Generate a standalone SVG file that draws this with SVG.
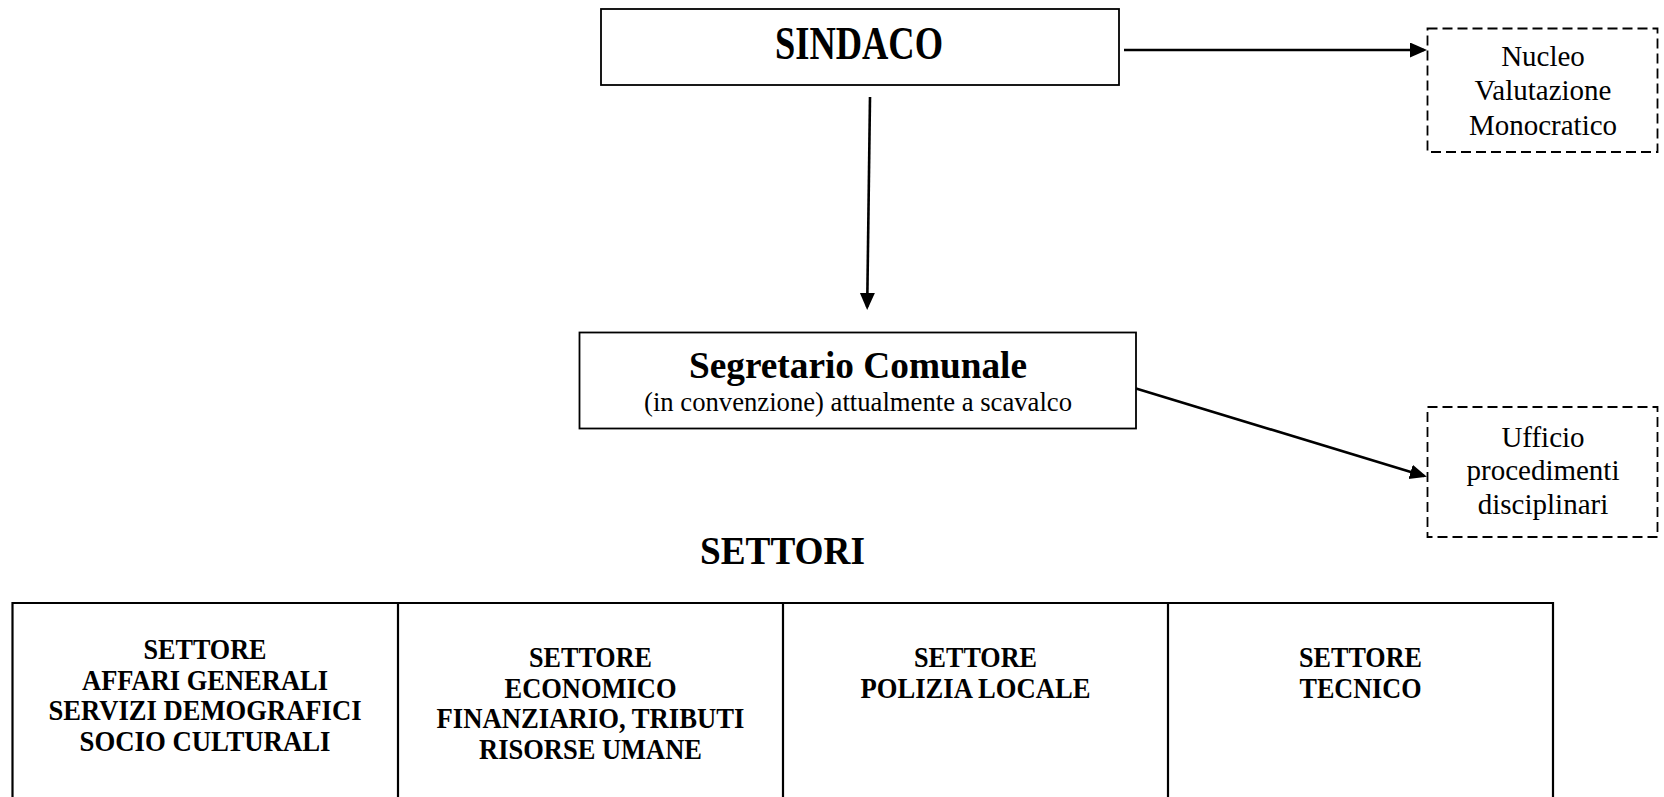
<svg xmlns="http://www.w3.org/2000/svg" width="1664" height="797" viewBox="0 0 1664 797">
<style>
  .box { fill: #ffffff; stroke: #000000; stroke-width: 1.8; }
  .dash { fill: #ffffff; stroke: #000000; stroke-width: 1.8; stroke-dasharray: 10 5; }
  .tbl { fill: none; stroke: #000000; stroke-width: 2.2; }
  .conn { stroke: #000000; stroke-width: 2.6; fill: none; marker-end: url(#ah); }
  text { font-family: "Liberation Serif", "Times New Roman", serif; fill: #000000; text-anchor: middle; }
  .b { font-weight: bold; }
  .big { font-size: 46px; }
  .mid { font-size: 38px; }
  .sub { font-size: 26.5px; }
  .side { font-size: 29px; }
  .cell { font-size: 29.5px; font-weight: bold; }
</style>
<defs>
  <marker id="ah" markerWidth="18" markerHeight="16" refX="14" refY="7.5" orient="auto" markerUnits="userSpaceOnUse">
    <path d="M0,0 L17,7.5 L0,15 z" fill="#000000"/>
  </marker>
</defs>
<rect width="1664" height="797" fill="#ffffff"/>

<g id="connectors">
  <line class="conn" x1="1124" y1="50" x2="1424" y2="50"/>
  <line class="conn" x1="870" y1="97" x2="867.2" y2="307"/>
  <line class="conn" x1="1136" y1="388.5" x2="1424" y2="476"/>
</g>

<g id="sindaco">
  <rect class="box" x="601" y="9" width="518" height="76"/>
  <text class="b big" x="859" y="58.5" textLength="168" lengthAdjust="spacingAndGlyphs">SINDACO</text>
</g>

<g id="nucleo">
  <rect class="dash" x="1427.5" y="28.5" width="230" height="123.5"/>
  <text class="side" x="1543" y="65.5">Nucleo</text>
  <text class="side" x="1543" y="100">Valutazione</text>
  <text class="side" x="1543" y="134.5">Monocratico</text>
</g>

<g id="segretario">
  <rect class="box" x="579.5" y="332.5" width="556.5" height="96"/>
  <text class="b mid" x="858" y="378" textLength="338" lengthAdjust="spacingAndGlyphs">Segretario Comunale</text>
  <text class="sub" x="858" y="411" textLength="428" lengthAdjust="spacingAndGlyphs">(in convenzione) attualmente a scavalco</text>
</g>

<g id="ufficio">
  <rect class="dash" x="1427.5" y="407" width="230" height="130"/>
  <text class="side" x="1543" y="446.5">Ufficio</text>
  <text class="side" x="1543" y="480">procedimenti</text>
  <text class="side" x="1543" y="513.5">disciplinari</text>
</g>

<g id="settori-title">
  <text class="b" x="782.5" y="564" font-size="39" textLength="165" lengthAdjust="spacingAndGlyphs">SETTORI</text>
</g>

<g id="settori-table">
  <path class="tbl" d="M12.5,800 V603 H1553 V800 M398,603 V800 M783,603 V800 M1168,603 V800"/>
</g>

<g id="settore-affari-generali">
  <text class="cell" x="205" y="659" textLength="123" lengthAdjust="spacingAndGlyphs">SETTORE</text>
  <text class="cell" x="205" y="689.5" textLength="246" lengthAdjust="spacingAndGlyphs">AFFARI GENERALI</text>
  <text class="cell" x="205" y="720" textLength="313" lengthAdjust="spacingAndGlyphs">SERVIZI DEMOGRAFICI</text>
  <text class="cell" x="205" y="750.5" textLength="251" lengthAdjust="spacingAndGlyphs">SOCIO CULTURALI</text>
</g>

<g id="settore-economico">
  <text class="cell" x="590.5" y="667" textLength="123" lengthAdjust="spacingAndGlyphs">SETTORE</text>
  <text class="cell" x="590.5" y="697.5" textLength="172" lengthAdjust="spacingAndGlyphs">ECONOMICO</text>
  <text class="cell" x="590.5" y="728" textLength="308" lengthAdjust="spacingAndGlyphs">FINANZIARIO, TRIBUTI</text>
  <text class="cell" x="590.5" y="758.5" textLength="223" lengthAdjust="spacingAndGlyphs">RISORSE UMANE</text>
</g>

<g id="settore-polizia-locale">
  <text class="cell" x="975.5" y="667" textLength="123" lengthAdjust="spacingAndGlyphs">SETTORE</text>
  <text class="cell" x="975.5" y="697.5" textLength="230" lengthAdjust="spacingAndGlyphs">POLIZIA LOCALE</text>
</g>

<g id="settore-tecnico">
  <text class="cell" x="1360.5" y="667" textLength="123" lengthAdjust="spacingAndGlyphs">SETTORE</text>
  <text class="cell" x="1360.5" y="697.5" textLength="122" lengthAdjust="spacingAndGlyphs">TECNICO</text>
</g>
</svg>
